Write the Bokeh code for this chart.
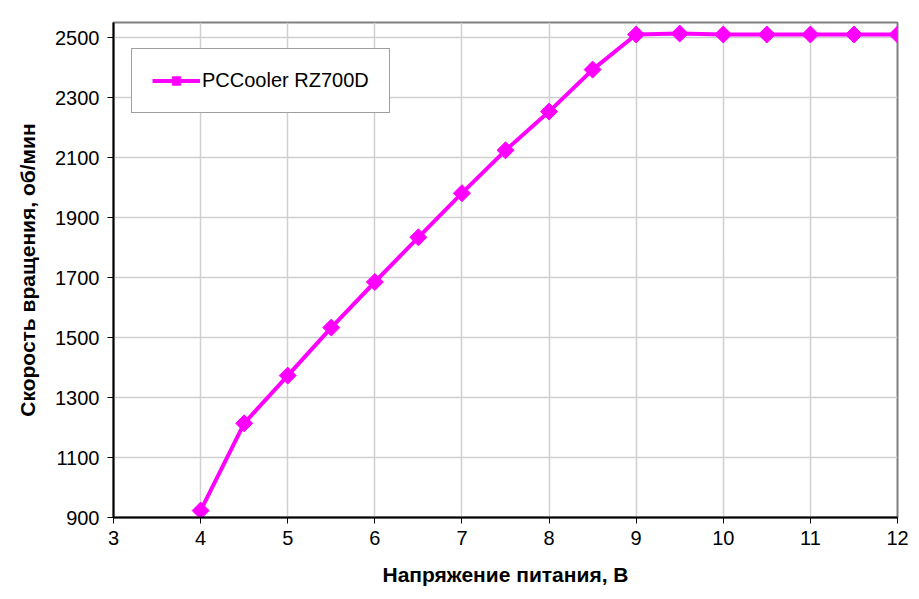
import math
from bokeh.plotting import figure
from bokeh.models import Legend, LegendItem, Range1d, FixedTicker
from bokeh.embed import file_html
from bokeh.resources import INLINE

voltage = [4, 4.5, 5, 5.5, 6, 6.5, 7, 7.5, 8, 8.5, 9, 9.5, 10, 10.5, 11, 11.5, 12]
rpm = [923, 1214, 1373, 1533, 1685, 1834, 1981, 2124, 2253, 2393, 2510, 2513, 2510, 2510, 2510, 2510, 2510]
series_name = "PCCooler RZ700D"
x_ticks = [3, 4, 5, 6, 7, 8, 9, 10, 11, 12]
y_ticks = [900, 1100, 1300, 1500, 1700, 1900, 2100, 2300, 2500]

FONT = "Liberation Sans"
COLOR = "#FF00FF"

p = figure(width=919, height=599, output_backend="svg", toolbar_location=None,
           x_range=Range1d(3, 12), y_range=Range1d(900, 2550),
           min_border_left=113, min_border_right=22, min_border_top=22, min_border_bottom=82)

p.outline_line_color = "#808080"
p.outline_line_width = 2

line = p.line(voltage, rpm, line_color=COLOR, line_width=4)
pts = p.scatter(voltage, rpm, marker="square", angle=math.pi / 4, size=12,
                fill_color=COLOR, line_color=COLOR, line_width=1)

p.xaxis.ticker = FixedTicker(ticks=x_ticks)
p.yaxis.ticker = FixedTicker(ticks=y_ticks)
for ax in (p.xaxis[0], p.yaxis[0]):
    ax.axis_line_color = "black"
    ax.axis_line_width = 2
    ax.major_tick_line_color = "black"
    ax.major_tick_line_width = 1
    ax.major_tick_in = 0
    ax.major_tick_out = 6
    ax.minor_tick_line_color = None
    ax.major_label_text_font = FONT
    ax.major_label_text_font_size = "20px"
    ax.major_label_text_color = "black"
    ax.axis_label_text_font = FONT
    ax.axis_label_text_font_size = "21px"
    ax.axis_label_text_font_style = "bold"
    ax.axis_label_text_color = "black"

p.xaxis.axis_label = "Напряжение питания, В"
p.yaxis.axis_label = "Скорость вращения, об/мин"
p.xaxis.major_label_standoff = 7
p.yaxis.major_label_standoff = 8
p.xaxis.axis_label_standoff = 15
p.yaxis.axis_label_standoff = 13

p.xgrid.grid_line_color = "#D0D0D0"
p.ygrid.grid_line_color = "#D0D0D0"
p.xgrid.grid_line_width = 1.5
p.ygrid.grid_line_width = 1.5

legend = Legend(items=[LegendItem(label=series_name, renderers=[line, pts])],
                location=(18, 404))
legend.border_line_color = "#404040"
legend.border_line_width = 1.5
legend.background_fill_alpha = 1
legend.label_text_font = FONT
legend.label_text_font_size = "20px"
legend.label_text_color = "black"
legend.glyph_width = 48
legend.glyph_height = 21
legend.padding = 20
legend.margin = 0
legend.spacing = 0
legend.label_standoff = 2
legend.label_width = 160
p.add_layout(legend)

open("out.html", "w").write(file_html(p, INLINE))
